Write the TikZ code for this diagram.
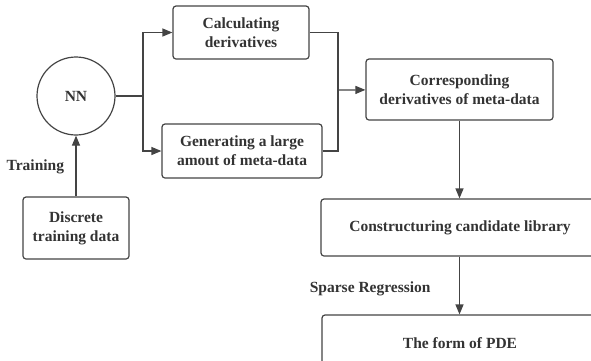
\documentclass[tikz,border=0pt]{standalone}
\usepackage{fontspec}
\setmainfont{Liberation Serif}
\usepackage{xcolor}
\usetikzlibrary{arrows.meta, positioning}

\definecolor{linegray}{HTML}{444444}
\definecolor{textgray}{HTML}{333333}

\begin{document}
\begin{tikzpicture}[
    x=1pt, y=-1pt,
    box/.style={draw=linegray, line width=1.2pt, rounded corners=3pt, align=center, inner sep=0pt,
        font=\fontsize{15.5}{19}\selectfont\bfseries, text=textgray, minimum width=#1},
    box/.default=136pt,
    arr/.style={-{Triangle[length=10pt, width=8pt]}, line width=1.2pt, draw=linegray},
    ln/.style={line width=1.2pt, draw=linegray},
    lbl/.style={font=\fontsize{15.5}{18}\selectfont\bfseries, text=textgray}
]
    \useasboundingbox (0,0) rectangle (591,360);
    \clip (0,0) rectangle (591,360);

    % Network and training data
    \node[draw=linegray, line width=1.2pt, circle, minimum size=78pt, inner sep=0pt,
        font=\fontsize{15.5}{18}\selectfont\bfseries, text=textgray] (nn) at (76,96) {NN};
    \node[box=106pt, minimum height=62pt] (data) at (76,228) {Discrete\\training data};

    % Derivatives and meta-data
    \node[box=136pt, minimum height=53pt] (calc) at (241,32.5) {Calculating\\derivatives};
    \node[box=160pt, minimum height=54pt] (gen) at (242,151) {Generating a large\\amout of meta-data};
    \node[box=187pt, minimum height=61pt] (corr) at (459.5,89.5) {Corresponding\\derivatives of meta-data};

    % Library and result (running off the right edge)
    \node[box=300pt, minimum height=57pt] (lib) at (471,227.5) {\hspace*{-22pt}Constructuring candidate library};
    \node[box=300pt, minimum height=57pt] (pde) at (472,343.5) {\hspace*{-24pt}The form of PDE};

    % Junctions
    \coordinate (split) at (143,96);
    \coordinate (merge) at (338,90);

    % Arrows
    \draw[arr] (data) -- node[lbl, left=8pt, pos=0.48] (train) {Training} (nn);
    \draw[ln] (nn) -- (split);
    \draw[arr] (split) |- (calc);
    \draw[arr] (split) |- (gen);
    \draw[ln] (calc) -| (merge);
    \draw[ln] (gen) -| (merge);
    \draw[arr] (merge) -- (corr);
    \draw[arr] (corr) -- (corr |- lib.north);
    \draw[arr] (corr |- lib.south) -- node[lbl, left=25pt, pos=0.55] (sparse) {Sparse Regression} (corr |- pde.north);
\end{tikzpicture}
\end{document}
